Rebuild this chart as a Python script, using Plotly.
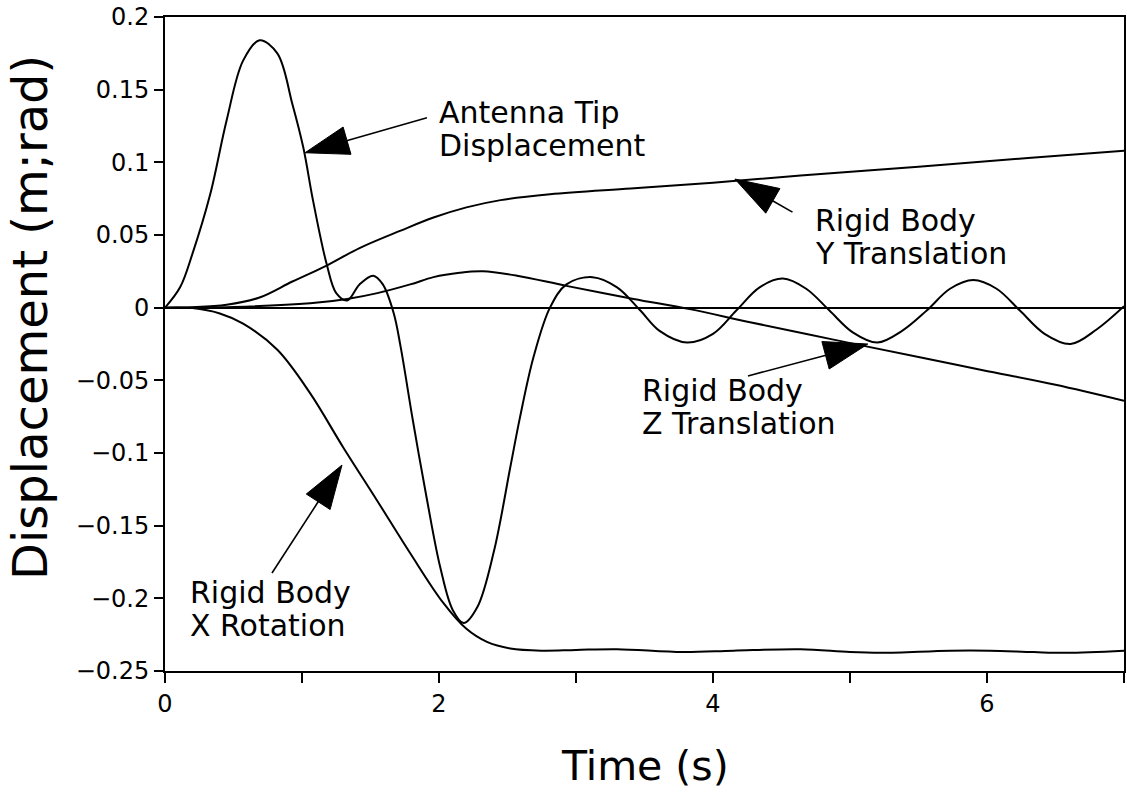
import plotly.graph_objects as go

# ---- time histories (s, m or rad) ----
tip_t = [0.00, 0.11, 0.20, 0.33, 0.45, 0.57, 0.69, 0.82, 0.93, 1.01, 1.08, 1.18, 1.25, 1.33,
         1.42, 1.52, 1.59, 1.67, 1.72, 1.81, 1.91, 2.01, 2.10, 2.18, 2.28, 2.40, 2.52, 2.59,
         2.69, 2.81, 2.93, 3.12, 3.30, 3.47, 3.61, 3.81, 4.00, 4.17, 4.34, 4.51, 4.68, 4.85,
         5.02, 5.20, 5.38, 5.56, 5.73, 5.90, 6.07, 6.24, 6.42, 6.61, 6.80, 7.00]
tip_disp = [0.000, 0.014, 0.037, 0.078, 0.129, 0.170, 0.184, 0.175, 0.140, 0.110, 0.074, 0.030,
            0.010, 0.005, 0.016, 0.022, 0.016, -0.004, -0.027, -0.078, -0.131, -0.179, -0.208,
            -0.217, -0.206, -0.168, -0.110, -0.076, -0.034, 0.000, 0.016, 0.021, 0.014, -0.002,
            -0.016, -0.024, -0.018, -0.002, 0.014, 0.020, 0.013, -0.002, -0.017, -0.024, -0.016,
            -0.002, 0.013, 0.019, 0.013, -0.002, -0.018, -0.025, -0.015, 0.001]

y_t = [0.00, 0.20, 0.45, 0.69, 0.93, 1.18, 1.42, 1.72, 1.96, 2.20, 2.45, 2.81, 3.40, 4.00,
       4.64, 5.50, 6.30, 7.00]
y_trans = [0.000, 0.0003, 0.002, 0.007, 0.018, 0.029, 0.041, 0.053, 0.062, 0.069, 0.074, 0.078,
           0.082, 0.086, 0.091, 0.097, 0.103, 0.108]

z_t = [0.00, 0.50, 1.06, 1.33, 1.55, 1.79, 1.96, 2.15, 2.32, 2.57, 2.93, 3.42, 3.83, 4.27,
       4.88, 5.50, 5.97, 6.50, 7.00]
z_trans = [0.000, 0.0005, 0.003, 0.006, 0.010, 0.016, 0.021, 0.024, 0.025, 0.022, 0.015, 0.006,
           -0.001, -0.010, -0.022, -0.034, -0.043, -0.053, -0.064]

x_t = [0.00, 0.20, 0.40, 0.57, 0.82, 1.06, 1.30, 1.55, 1.79, 2.03, 2.20, 2.35, 2.52, 2.75,
       3.00, 3.30, 3.78, 4.15, 4.64, 5.00, 5.24, 5.73, 6.02, 6.34, 6.58, 7.00]
x_rot = [0.000, -0.0003, -0.004, -0.011, -0.029, -0.059, -0.096, -0.133, -0.169, -0.203, -0.221,
         -0.230, -0.2345, -0.236, -0.2355, -0.235, -0.237, -0.236, -0.235, -0.237, -0.2375,
         -0.236, -0.236, -0.237, -0.2375, -0.236]

x_tickvals = [0, 1, 2, 3, 4, 5, 6, 7]
x_ticktext = ["0", "", "2", "", "4", "", "6", ""]

# ---- callouts: two text lines, label corner, pointer tail and tip ----
label_line1 = ["Antenna Tip", "Rigid Body", "Rigid Body", "Rigid Body"]
label_line2 = ["Displacement", "Y Translation", "Z Translation", "X Rotation"]
label_x = [1.985, 4.73, 3.467, 0.168]
label_y = [0.1475, 0.0735, -0.0435, -0.1825]
line_gap = 0.0225
tail_x = [1.912, 4.58, 4.255, 0.781]
tail_y = [0.1307, 0.0657, -0.047, -0.1826]
tip_x = [1.022, 4.16, 5.13, 1.292]
tip_y = [0.1066, 0.0885, -0.0250, -0.1083]

INK = "black"
FONT = "DejaVu Sans"

fig = go.Figure()

for tt, vv in [(tip_t, tip_disp), (y_t, y_trans), (z_t, z_trans), (x_t, x_rot)]:
    fig.add_trace(go.Scatter(x=tt, y=vv, mode="lines",
                             line=dict(color=INK, width=2, shape="spline", smoothing=1.0),
                             showlegend=False, hoverinfo="skip"))

# pointer arrows: a line ending in a filled arrowhead aligned with the line
for i in range(len(tip_x)):
    fig.add_trace(go.Scatter(
        x=[tail_x[i], tip_x[i]], y=[tail_y[i], tip_y[i]], mode="lines+markers",
        line=dict(color=INK, width=1.6),
        marker=dict(symbol="arrow", size=[0, 46], angleref="previous", color=INK,
                    opacity=1, line=dict(width=1, color=INK)),
        showlegend=False, hoverinfo="skip"))

for i in range(len(label_line1)):
    for j, txt in enumerate([label_line1[i], label_line2[i]]):
        fig.add_annotation(x=label_x[i], y=label_y[i] - j * line_gap, xref="x", yref="y",
                           text=txt, showarrow=False, xanchor="left", yanchor="top",
                           align="left", font=dict(family=FONT, size=30, color=INK))

# axis titles
fig.add_annotation(x=-0.141, y=0.541, xref="paper", yref="paper",
                   text="Displacement (m;rad)", textangle=-90, showarrow=False,
                   xanchor="center", yanchor="middle",
                   font=dict(family=FONT, size=48, color=INK))
fig.add_annotation(x=0.5, y=-0.105, xref="paper", yref="paper",
                   text="Time (s)", showarrow=False, xanchor="center", yanchor="top",
                   font=dict(family=FONT, size=41, color=INK))

tick_font = dict(family=FONT, size=24, color=INK)

fig.update_xaxes(range=[0, 7], tickmode="array", tickvals=x_tickvals, ticktext=x_ticktext,
                 ticks="outside", ticklen=10, tickwidth=1.5, tickcolor=INK,
                 showline=True, linecolor=INK, linewidth=2, mirror=True,
                 showgrid=False, zeroline=False, automargin=False, tickfont=tick_font)
fig.update_yaxes(range=[-0.25, 0.2], tickmode="linear", tick0=0, dtick=0.05,
                 ticks="outside", ticklen=9, tickwidth=1.5, tickcolor=INK,
                 showline=True, linecolor=INK, linewidth=2, mirror=True,
                 showgrid=False, zeroline=True, zerolinecolor=INK, zerolinewidth=2,
                 automargin=False, tickfont=tick_font)

fig.update_layout(width=1127, height=793,
                  margin=dict(l=165, r=3, t=17, b=122),
                  paper_bgcolor="white", plot_bgcolor="white")

fig.write_html("out.html")
